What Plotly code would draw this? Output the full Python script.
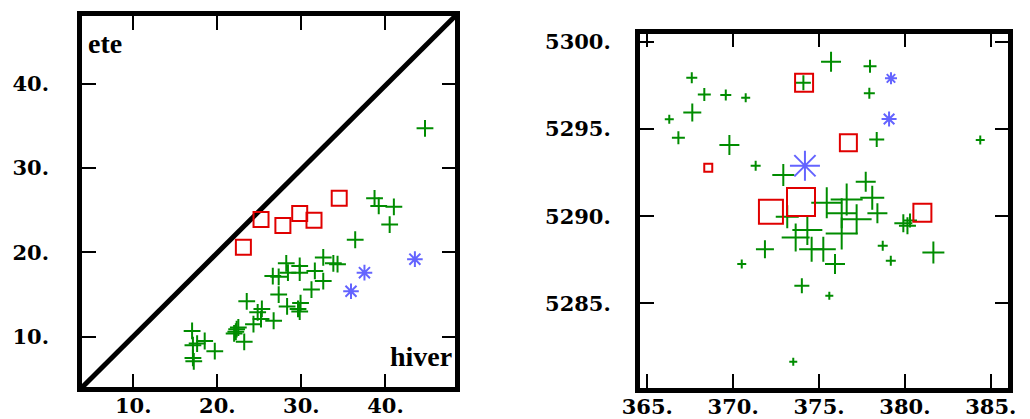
import plotly.graph_objects as go

# ---------------- data: left panel (hiver vs ete) ----------------
left_green_x = [44.7, 38.7, 39.2, 41.0, 40.5, 36.4, 33.8, 34.3, 32.6, 32.6, 31.6, 31.2,
                29.8, 29.8, 28.2, 28.4, 26.6, 27.3, 27.3, 28.3, 29.6, 29.8, 29.9, 23.5,
                24.8, 25.3, 25.2, 24.3, 26.7, 22.0, 22.3, 22.5, 22.2, 23.2, 17.0, 17.1,
                17.1, 17.2, 18.5, 19.7, 17.6]
left_green_y = [34.7, 26.4, 25.5, 25.4, 23.3, 21.5, 18.7, 18.6, 19.4, 16.6, 17.8, 15.6,
                18.4, 17.6, 18.7, 17.6, 17.2, 17.1, 15.0, 13.6, 13.3, 13.0, 14.0, 14.2,
                12.9, 13.3, 12.1, 11.5, 11.9, 10.4, 10.9, 11.1, 10.6, 9.4, 10.7, 9.0,
                7.5, 7.1, 9.5, 8.3, 9.2]
left_red_x = [23.1, 25.2, 27.8, 29.8, 31.5, 34.5]
left_red_y = [20.6, 23.9, 23.2, 24.6, 23.8, 26.4]
left_blue_x = [35.9, 37.5, 43.5]
left_blue_y = [15.4, 17.6, 19.2]

left_ticks = [10, 20, 30, 40]
left_ticktext = ["10.", "20.", "30.", "40."]

# ---------------- data: right panel (map) ----------------
right_green_x = [375.70, 377.97, 367.59, 368.32, 369.57, 370.73, 367.62, 366.28, 366.81,
                 369.78, 371.31, 372.92, 374.09, 377.93, 378.36, 384.39, 377.72, 378.10,
                 378.40, 379.91, 380.30, 380.15, 381.66, 378.71, 379.18, 370.50, 371.85,
                 374.00, 375.60, 373.50, 373.15, 374.32, 373.64, 374.57, 375.25, 375.93,
                 375.45, 376.61, 376.32, 376.32, 377.19]
right_green_y = [5298.85, 5298.60, 5297.94, 5296.98, 5296.94, 5296.79, 5295.95, 5295.55,
                 5294.50, 5294.08, 5292.89, 5292.36, 5297.65, 5297.04, 5294.40, 5294.36,
                 5291.97, 5291.05, 5290.16, 5289.59, 5289.75, 5289.45, 5287.92, 5288.30,
                 5287.44, 5287.25, 5288.10, 5286.01, 5285.44, 5281.65, 5289.97, 5289.20,
                 5288.78, 5288.10, 5288.10, 5287.25, 5290.77, 5290.96, 5290.16, 5289.01,
                 5289.82]
right_green_w = [20, 13, 11, 13, 11, 9, 18, 9, 13, 20, 10, 22, 15, 11, 15, 9, 20, 24, 20,
                 18, 14, 17, 22, 10, 10, 9, 18, 15, 8, 8, 23, 30, 28, 25, 25, 20, 31, 32,
                 30, 32, 30]
right_red_x = [368.55, 374.13, 376.71, 372.20, 373.95, 381.02]
right_red_y = [5292.78, 5297.65, 5294.21, 5290.25, 5290.81, 5290.19]
right_red_w = [8, 18, 17, 24, 28, 18]
right_blue_x = [374.18, 379.19, 379.08]
right_blue_y = [5292.89, 5297.90, 5295.57]
right_blue_w = [30, 12, 15]

right_xticks = [365, 370, 375, 380, 385]
right_xticktext = ["365.", "370.", "375.", "380.", "385."]
right_yticks = [5285, 5290, 5295, 5300]
right_yticktext = ["5285.", "5290.", "5295.", "5300."]

GREEN = "#008c00"
RED = "#e00000"
BLUE = "#6464ff"

fig = go.Figure()

# left panel
fig.add_trace(go.Scatter(x=left_green_x, y=left_green_y, mode="markers", xaxis="x", yaxis="y",
                         marker=dict(symbol="cross-thin-open", size=12, color=GREEN, opacity=1,
                                     line=dict(width=2, color=GREEN))))
fig.add_trace(go.Scatter(x=left_red_x, y=left_red_y, mode="markers", xaxis="x", yaxis="y",
                         marker=dict(symbol="square-open", size=15, color=RED, opacity=1,
                                     line=dict(width=2, color=RED))))
fig.add_trace(go.Scatter(x=left_blue_x, y=left_blue_y, mode="markers", xaxis="x", yaxis="y",
                         marker=dict(symbol="asterisk-open", size=13, color=BLUE, opacity=1,
                                     line=dict(width=2, color=BLUE))))

# right panel
fig.add_trace(go.Scatter(x=right_green_x, y=right_green_y, mode="markers", xaxis="x2", yaxis="y2",
                         marker=dict(symbol="cross-thin-open", size=[w / 1.4 for w in right_green_w],
                                     color=GREEN, opacity=1, line=dict(width=2, color=GREEN))))
fig.add_trace(go.Scatter(x=right_red_x, y=right_red_y, mode="markers", xaxis="x2", yaxis="y2",
                         marker=dict(symbol="square-open", size=right_red_w, color=RED, opacity=1,
                                     line=dict(width=2, color=RED))))
fig.add_trace(go.Scatter(x=right_blue_x, y=right_blue_y, mode="markers", xaxis="x2", yaxis="y2",
                         marker=dict(symbol="asterisk-open", size=[w / 1.2 for w in right_blue_w],
                                     color=BLUE, opacity=1, line=dict(width=2, color=BLUE))))

tickfont = dict(family="DejaVu Serif", size=21, color="black", weight="bold")
common = dict(showline=True, linewidth=4.5, linecolor="black", mirror="ticks", ticks="inside",
              ticklen=14, tickwidth=2, tickcolor="black", showgrid=False, zeroline=False,
              tickfont=tickfont, tickmode="array", fixedrange=True, automargin=False)

W, H = 1030, 419

fig.update_layout(
    width=W, height=H, margin=dict(l=0, r=0, t=0, b=0, autoexpand=False),
    paper_bgcolor="white", plot_bgcolor="white", showlegend=False,
    xaxis=dict(domain=[81.95 / W, 455.25 / W], range=[3.9, 48.3], anchor="y",
               tickvals=left_ticks, ticktext=left_ticktext, ticklabelstandoff=-4, **common),
    yaxis=dict(domain=[(H - 387.45) / H, (H - 16.05) / H], range=[4.0, 48.0], anchor="x",
               tickvals=left_ticks, ticktext=left_ticktext, ticklabelstandoff=24, **common),
    xaxis2=dict(domain=[639.75 / W, 1008.25 / W], range=[364.56, 386.02], anchor="y2",
                tickvals=right_xticks, ticktext=right_xticktext, ticklabelstandoff=-4, **common),
    yaxis2=dict(domain=[(H - 387.95) / H, (H - 33.55) / H], range=[5280.15, 5300.47], anchor="x2",
                tickvals=right_yticks, ticktext=right_yticktext, ticklabelstandoff=20, **common),
    shapes=[dict(type="line", xref="x domain", yref="y domain", x0=0, y0=0, x1=1, y1=1,
                 line=dict(color="black", width=5), layer="below")],
    annotations=[
        dict(text="ete", xref="x domain", yref="y domain", x=0.012, y=0.973,
             xanchor="left", yanchor="top", showarrow=False,
             font=dict(family="Liberation Serif", size=28, color="black", weight="bold")),
        dict(text="hiver", xref="x domain", yref="y domain", x=0.997, y=0.036,
             xanchor="right", yanchor="bottom", showarrow=False,
             font=dict(family="Liberation Serif", size=28, color="black", weight="bold")),
    ],
)

fig.write_html("out.html", config={"displayModeBar": False},
               post_script="document.body.style.margin='0';document.body.style.overflow='hidden';")
